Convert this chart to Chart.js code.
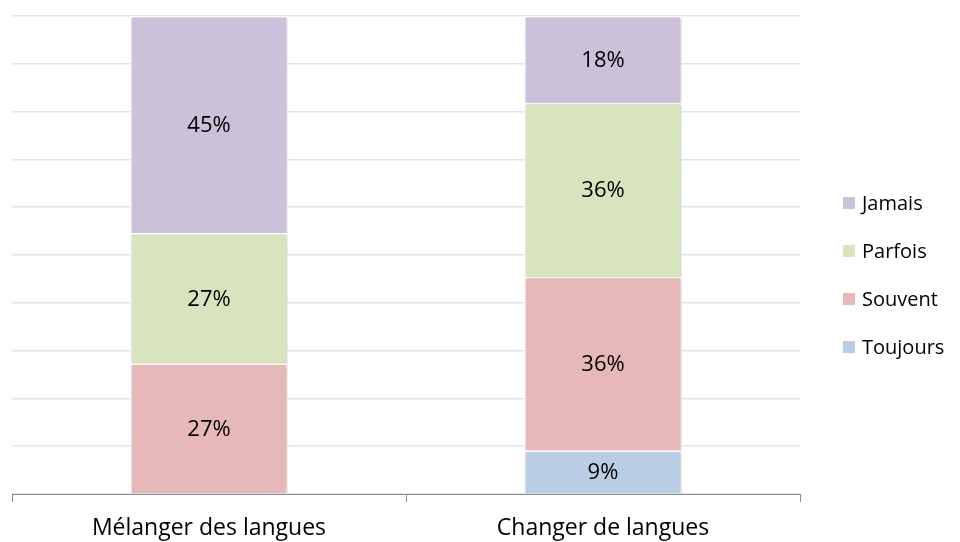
<!DOCTYPE html>
<html>
<head>
<meta charset="utf-8">
<script src="https://cdn.jsdelivr.net/npm/chart.js@4"></script>
<style>
  html, body { margin: 0; padding: 0; background: #fff; }
  #wrap { width: 960px; height: 542px; }
</style>
</head>
<body>
<div id="wrap"><canvas id="chart"></canvas></div>
<script>
const categories = ['Mélanger des langues', 'Changer de langues'];
const toujours = [0, 9.1];
const souvent = [27.3, 36.3];
const parfois = [27.3, 36.4];
const jamais = [45.4, 18.2];
const yTicks = [0, 10, 20, 30, 40, 50, 60, 70, 80, 90, 100];

const FONT = '"Open Sans", Lato, sans-serif';

// draw the percentage inside each segment
const segmentLabels = {
    id: 'segmentLabels',
    afterDatasetsDraw(chart) {
        const ctx = chart.ctx;
        ctx.save();
        ctx.font = '22px ' + FONT;
        ctx.fillStyle = '#000';
        ctx.textAlign = 'center';
        ctx.textBaseline = 'middle';
        chart.data.datasets.forEach((ds, i) => {
            chart.getDatasetMeta(i).data.forEach((bar, j) => {
                const v = ds.data[j];
                if (!v) return;
                const mid = (bar.y + bar.base) / 2;
                ctx.fillText(Math.round(v) + '%', bar.x, mid + 1);
            });
        });
        ctx.restore();
    }
};

// soft shadow behind the bars
const barShadow = {
    id: 'barShadow',
    beforeDatasetsDraw(chart) {
        const ctx = chart.ctx;
        ctx.save();
        ctx.shadowColor = 'rgba(0,0,0,0.25)';
        ctx.shadowBlur = 3;
        ctx.shadowOffsetX = 1;
        ctx.shadowOffsetY = 1;
    },
    afterDatasetsDraw(chart) {
        chart.ctx.restore();
    }
};

// legend on the right, Jamais on top
const sideLegend = {
    id: 'sideLegend',
    afterDraw(chart) {
        const ctx = chart.ctx;
        const items = chart.data.datasets.slice().reverse();
        ctx.save();
        ctx.font = '20px ' + FONT;
        ctx.textBaseline = 'middle';
        ctx.textAlign = 'left';
        items.forEach((ds, i) => {
            const y = 203 + i * 48;
            ctx.fillStyle = ds.backgroundColor;
            ctx.fillRect(843, y - 6, 12, 12);
            ctx.fillStyle = '#000';
            ctx.fillText(ds.label, 862, y + 1);
        });
        ctx.restore();
    }
};

new Chart(document.getElementById('chart'), {
    type: 'bar',
    data: {
        labels: categories,
        datasets: [
            { label: 'Toujours', data: toujours, backgroundColor: '#b9cde5' },
            { label: 'Souvent', data: souvent, backgroundColor: '#e6b9b8' },
            { label: 'Parfois', data: parfois, backgroundColor: '#d7e4bd' },
            { label: 'Jamais', data: jamais, backgroundColor: '#ccc1da' }
        ].map(d => Object.assign(d, {
            borderColor: '#ffffff',
            borderWidth: 1.5,
            categoryPercentage: 1,
            barPercentage: 0.4
        }))
    },
    options: {
        responsive: true,
        maintainAspectRatio: false,
        animation: false,
        layout: { padding: { left: 12, right: 160, top: 16, bottom: 0 } },
        plugins: {
            legend: { display: false },
            tooltip: { enabled: false }
        },
        scales: {
            x: {
                stacked: true,
                afterFit(axis) { axis.height = 48; },
                grid: {
                    offset: true,
                    drawOnChartArea: false,
                    drawTicks: true,
                    tickLength: 8,
                    color: '#8c8c8c'
                },
                border: { display: true, color: '#8c8c8c', width: 1 },
                ticks: {
                    color: '#000',
                    font: { family: FONT, size: 23 },
                    padding: 13,
                    maxRotation: 0
                }
            },
            y: {
                stacked: true,
                min: 0,
                max: 100,
                afterBuildTicks(axis) {
                    axis.ticks = yTicks.map(v => ({ value: v }));
                },
                grid: { color: '#dce6f2', lineWidth: 1.5, drawTicks: false },
                border: { display: false },
                ticks: { display: false }
            }
        }
    },
    plugins: [barShadow, segmentLabels, sideLegend]
});
</script>
</body>
</html>
